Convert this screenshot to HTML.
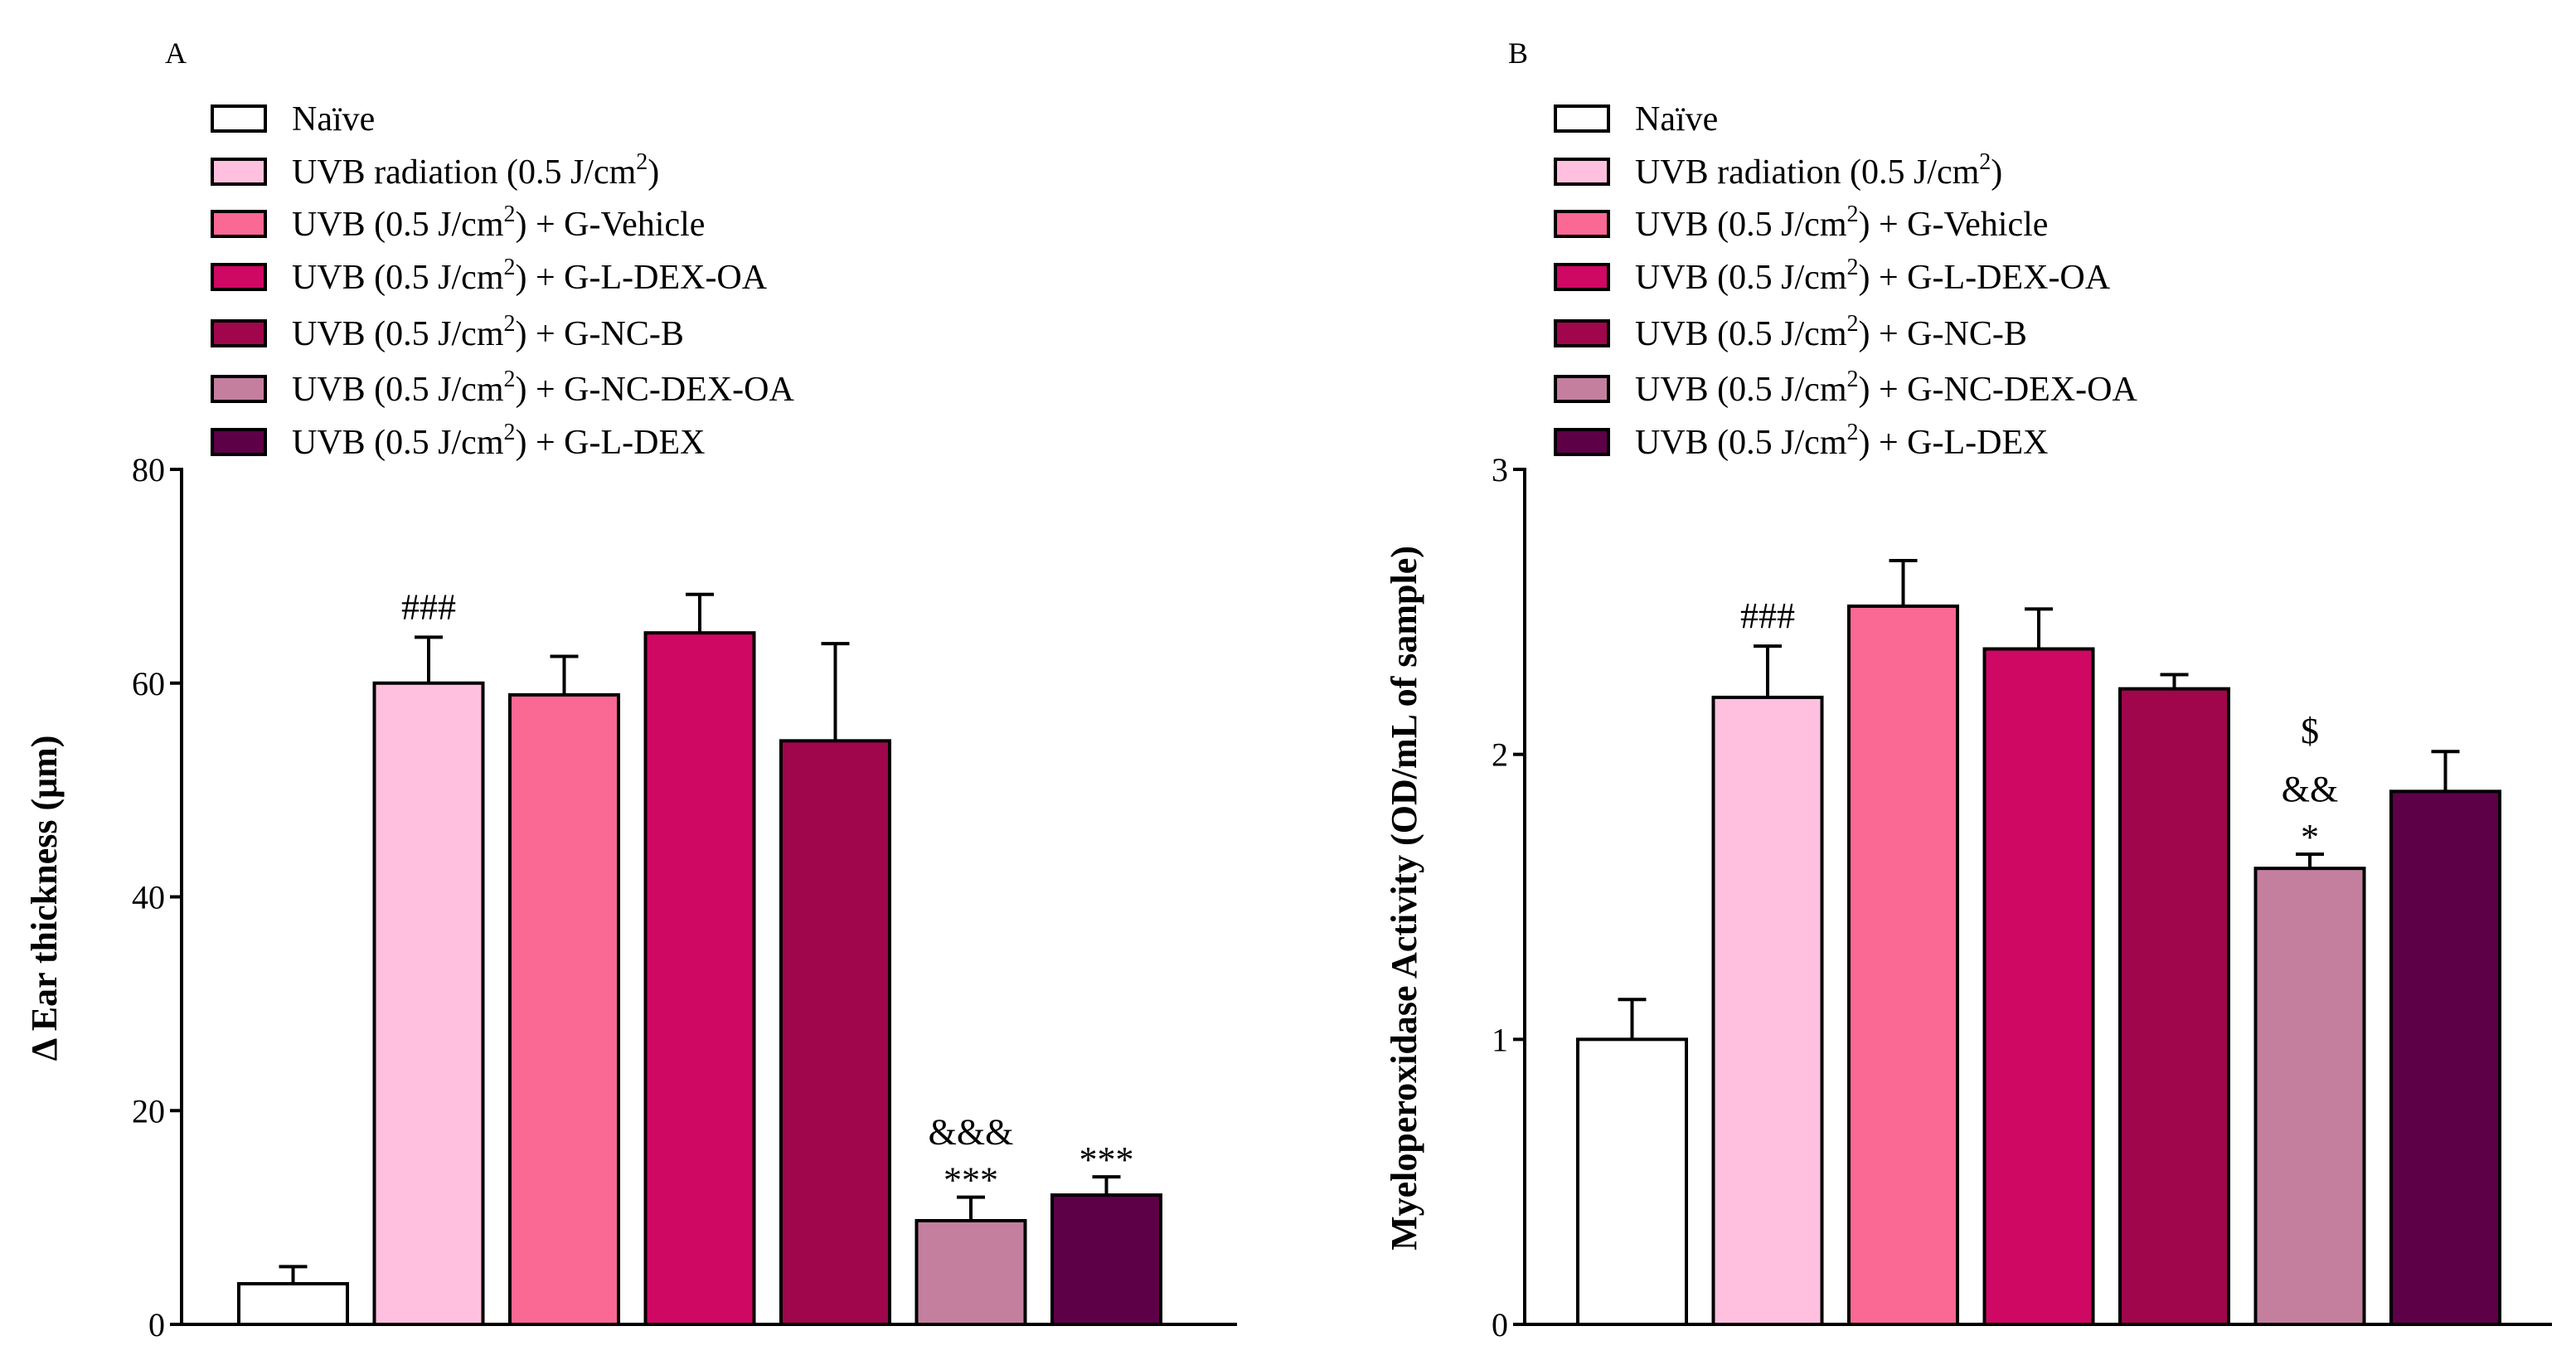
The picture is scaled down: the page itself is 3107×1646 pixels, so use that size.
<!DOCTYPE html>
<html><head><meta charset="utf-8">
<style>
html,body{margin:0;padding:0;background:#fff;}
svg{display:block;font-family:"Liberation Serif",serif;}
</style></head>
<body>
<svg id="fig" width="3107" height="1646" viewBox="0 0 3107 1646" xmlns="http://www.w3.org/2000/svg"></svg>
<script>
const categories = ["Naïve","UVB radiation (0.5 J/cm²)","UVB + G-Vehicle","UVB + G-L-DEX-OA","UVB + G-NC-B","UVB + G-NC-DEX-OA","UVB + G-L-DEX"];
const colors = ["#ffffff","#fec0de","#fa6894","#cf0863","#a0064b","#c47f9f","#5e0048"];
const earValues = [3.8, 60.0, 58.9, 64.7, 54.6, 9.7, 12.1];
const earErrors = [1.6, 4.3, 3.6, 3.6, 9.1, 2.2, 1.7];
const earTicks = [0, 20, 40, 60, 80];
const mpoValues = [1.0, 2.2, 2.52, 2.37, 2.23, 1.6, 1.87];
const mpoErrors = [0.14, 0.18, 0.16, 0.14, 0.05, 0.05, 0.14];
const mpoTicks = [0, 1, 2, 3];
const earAnnot = [[], ["###"], [], [], [], ["***","&&&"], ["***"]];
const mpoAnnot = [[], ["###"], [], [], [], ["*","&&","$"], []];
const legendSuffix = ["", "", " + G-Vehicle", " + G-L-DEX-OA", " + G-NC-B", " + G-NC-DEX-OA", " + G-L-DEX"];

const NS = "http://www.w3.org/2000/svg";
const svg = document.getElementById("fig");
function mk(tag, attrs, parent) {
  const e = document.createElementNS(NS, tag);
  for (const k in attrs) e.setAttribute(k, attrs[k]);
  (parent || svg).appendChild(e);
  return e;
}

function panel(opt) {
  const g = mk("g", {});
  
  
  const top = 566, zero = 1597;
  const y = v => zero - (v / opt.max) * (zero - top);
  const barX = i => opt.barStart + i * 163.5;
  const bw = 131;

  const lab = mk("text", {x: opt.axisX - 20, y: 76, "font-size": 36}, g);
  lab.textContent = opt.letter;
  
  

  const rows = [143, 207, 270, 334, 402, 469, 533];
  for (let i = 0; i < 7; i++) {
    const lg = mk("g", {}, g);
    
    
    mk("rect", {x: opt.axisX + 37, y: rows[i] - 15, width: 64, height: 30, fill: colors[i], stroke: "#000", "stroke-width": 4}, lg);
    const t = mk("text", {x: opt.axisX + 133, y: rows[i] + 14, "font-size": 42}, lg);
    if (i === 0) t.textContent = "Naïve";
    else {
      const pre = i === 1 ? "UVB radiation (0.5 J/cm" : "UVB (0.5 J/cm";
      const s1 = mk("tspan", {}, t); s1.textContent = pre;
      const s2 = mk("tspan", {dy: -17, "font-size": 28}, t); s2.textContent = "2";
      const s3 = mk("tspan", {dy: 17}, t); s3.textContent = ")" + legendSuffix[i];
    }
  }

  const ax = mk("g", {}, g);
  
  
  mk("line", {x1: opt.axisX, y1: top - 2, x2: opt.axisX, y2: zero + 2, stroke: "#000", "stroke-width": 4}, ax);
  opt.ticks.forEach(v => {
    mk("line", {x1: opt.axisX - 14, y1: y(v), x2: opt.axisX, y2: y(v), stroke: "#000", "stroke-width": 4}, ax);
    const t = mk("text", {x: opt.axisX - 20, y: y(v) + 14, "font-size": 40, "text-anchor": "end"}, ax);
    t.textContent = v;
  });
  const xa = mk("line", {x1: opt.axisX, y1: zero, x2: opt.axisEnd, y2: zero, stroke: "#000", "stroke-width": 4}, g);
  
  

  const yt = mk("text", {x: 0, y: 0, "font-size": 44, "font-weight": "bold", "text-anchor": "middle",
    transform: `translate(${opt.titleX},${opt.titleY}) rotate(-90)`}, g);
  yt.textContent = opt.title;
  
  

  opt.values.forEach((v, i) => {
    const x = barX(i), cx = x + bw / 2;
    const bg = mk("g", {}, g);
    
    
    const et = y(v + opt.errors[i]);
    mk("line", {x1: cx, y1: y(v), x2: cx, y2: et, stroke: "#000", "stroke-width": 4}, bg);
    mk("line", {x1: cx - 17, y1: et, x2: cx + 17, y2: et, stroke: "#000", "stroke-width": 4}, bg);
    mk("rect", {x: x, y: y(v), width: bw, height: zero - y(v), fill: colors[i], stroke: "#000", "stroke-width": 4}, bg);
    let ay = et - 22;
    opt.annot[i].forEach(a => {
      const star = a === "*" || a === "***";
      const t = mk("text", {x: cx, y: star ? ay + 16 : ay, "font-size": 44, "text-anchor": "middle"}, bg);
      t.textContent = a;
      
      
      ay -= star ? 42 : 70;
    });
  });
}

panel({id: "ear", letter: "A", axisX: 219, axisEnd: 1492, barStart: 288, max: 80, ticks: earTicks,
  values: earValues, errors: earErrors, annot: earAnnot, title: "Δ Ear thickness (μm)", titleX: 68, titleY: 1083});
panel({id: "mpo", letter: "B", axisX: 1839, axisEnd: 3078, barStart: 1903, max: 3, ticks: mpoTicks,
  values: mpoValues, errors: mpoErrors, annot: mpoAnnot, title: "Myeloperoxidase Activity (OD/mL of sample)", titleX: 1708, titleY: 1083});
</script>
</body></html>
